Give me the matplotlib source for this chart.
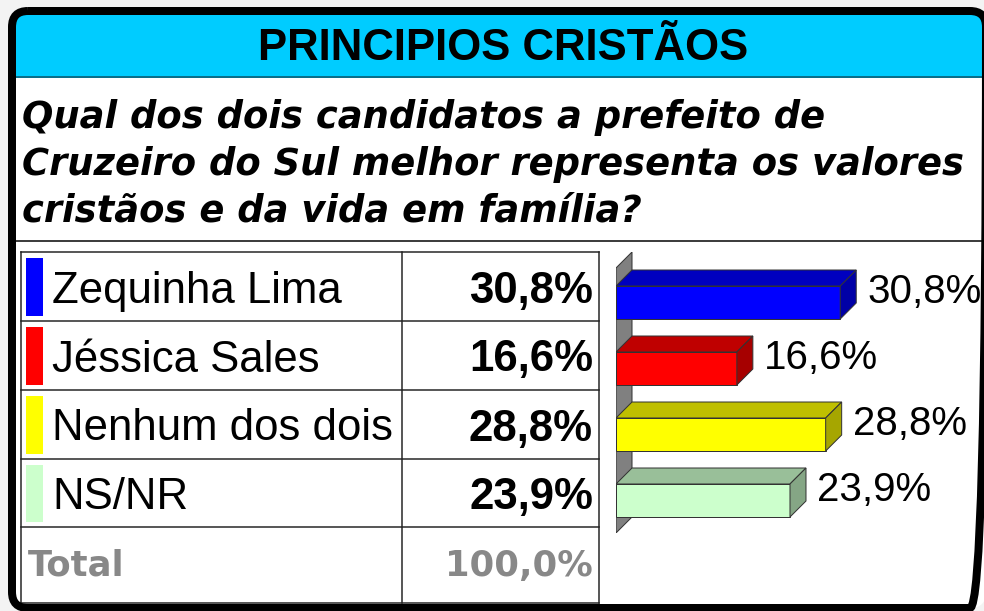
import matplotlib.pyplot as plt
from matplotlib.patches import FancyBboxPatch, Rectangle, Polygon
from matplotlib.colors import to_rgb

# data
title = "PRINCIPIOS CRISTÃOS"
question = ["Qual dos dois candidatos a prefeito de",
            "Cruzeiro do Sul melhor representa os valores",
            "cristãos e da vida em família?"]
candidates = ["Zequinha Lima", "Jéssica Sales", "Nenhum dos dois", "NS/NR"]
values = [30.8, 16.6, 28.8, 23.9]
colors = ["#0000ff", "#ff0000", "#ffff00", "#ccffcc"]
total_label = "Total"
total_value = 100.0


def fmt(v):
    return "{:.1f}%".format(v).replace(".", ",")


def shade(c, k):
    r, g, b = to_rgb(c)
    return (r * k, g * k, b * k)


W, H = 984, 611
PT = 0.72  # points per pixel at dpi 100

fig = plt.figure(figsize=(W / 100, H / 100), dpi=100)
fig.patch.set_facecolor("#f3f3f3")

# background axes in pixel units: frame, header, question, table
bg = fig.add_axes([0, 0, 1, 1])
bg.set_xlim(0, W)
bg.set_ylim(H, 0)
bg.axis("off")

box_xy, box_w, box_h = (12, 11), 974, 597
box = FancyBboxPatch(box_xy, box_w, box_h, boxstyle="round,pad=0,rounding_size=16",
                     facecolor="white", edgecolor="none", zorder=1)
bg.add_patch(box)
header = Rectangle((0, 0), W, 77, facecolor="#00ccff", edgecolor="none", zorder=2)
bg.add_patch(header)
header.set_clip_path(box)
border = FancyBboxPatch(box_xy, box_w, box_h, boxstyle="round,pad=0,rounding_size=16",
                        facecolor="none", edgecolor="black", linewidth=8 * PT, zorder=10)
bg.add_patch(border)

bg.plot([16, W], [77, 77], color="#0a6f8a", lw=2 * PT, zorder=3)
bg.plot([16, W], [240.5, 240.5], color="black", lw=1.5 * PT, zorder=3)

bg.text(503, 60, title, ha="center", va="baseline", fontsize=31.5,
        fontweight="bold", family="Liberation Sans", zorder=4)

for i, line in enumerate(question):
    bg.text(22, 128 + 47 * i, line, ha="left", va="baseline", fontsize=26.6,
            fontweight="bold", style="italic", family="DejaVu Sans", zorder=4)

# table
col_x = [21, 402, 599]
row_y = [252, 321, 390, 459, 527, 603]
for y in row_y:
    bg.plot([col_x[0], col_x[-1]], [y, y], color="#222222", lw=1.5 * PT, zorder=3)
for x in col_x:
    bg.plot([x, x], [row_y[0], row_y[-1]], color="#222222", lw=1.5 * PT, zorder=3)

for i, (name, v, c) in enumerate(zip(candidates, values, colors)):
    top, bot = row_y[i], row_y[i + 1]
    mid = (top + bot) / 2
    bg.add_patch(Rectangle((26, top + 6), 17, bot - top - 11, facecolor=c,
                           edgecolor="none", zorder=4))
    bg.text(52, mid + 16, name, ha="left", va="baseline", fontsize=31.5,
            family="Liberation Sans", zorder=4)
    bg.text(593, mid + 16, fmt(v), ha="right", va="baseline", fontsize=31.5,
            fontweight="bold", family="Liberation Sans", zorder=4)

bg.text(28, 576, total_label, ha="left", va="baseline", fontsize=25.5,
        fontweight="bold", family="DejaVu Sans", color="#888888", zorder=4)
bg.text(593, 576, fmt(total_value), ha="right", va="baseline", fontsize=25.5,
        fontweight="bold", family="DejaVu Sans", color="#888888", zorder=4)

# 3D-looking bar chart
ax = fig.add_axes([616 / W, 1 - 533 / H, 364 / W, 281 / H])
ax.set_xlim(0, 50)
ax.set_ylim(3.4924, -0.7652)
ax.axis("off")

dx = 16 * 50 / 364
dy = 16 / 66
bh = 0.5
y_lo, y_hi = ax.get_ylim()

wall = Polygon([(0, -bh / 2 - 0.273), (dx, -bh / 2 - 0.273 - dy), (dx, y_lo - dy), (0, y_lo)],
               closed=True, facecolor="#808080", edgecolor="#333333", lw=1 * PT, zorder=1)
ax.add_patch(wall)

pos = list(range(len(values)))
ax.barh(pos, values, height=bh, color=colors, edgecolor="#333333", linewidth=1 * PT, zorder=3)
for i, (v, c) in enumerate(zip(values, colors)):
    t = i - bh / 2
    b = i + bh / 2
    ax.add_patch(Polygon([(0, t), (v, t), (v + dx, t - dy), (dx, t - dy)], closed=True,
                         facecolor=shade(c, 0.75), edgecolor="#333333", lw=1 * PT, zorder=3))
    ax.add_patch(Polygon([(v, t), (v + dx, t - dy), (v + dx, b - dy), (v, b)], closed=True,
                         facecolor=shade(c, 0.65), edgecolor="#333333", lw=1 * PT, zorder=3))
    ax.annotate(fmt(v), xy=(v, i), xytext=(27, 0), textcoords="offset pixels",
                ha="left", va="baseline", fontsize=29, family="Liberation Sans",
                annotation_clip=False, zorder=5)

plt.savefig("out.png", dpi=100, facecolor=fig.get_facecolor())
plt.close()
